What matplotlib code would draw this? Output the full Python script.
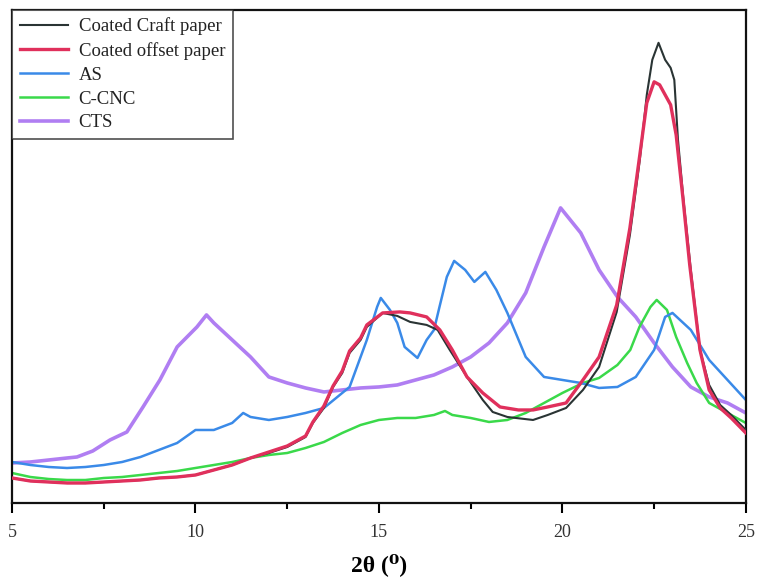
import matplotlib
matplotlib.use("Agg")
import matplotlib.pyplot as plt
from matplotlib.ticker import MultipleLocator

# Intensity (a.u.)
craft_x = [5, 5.5, 6, 6.5, 7, 7.5, 8, 8.5, 9, 9.5, 10, 10.5, 11, 11.5, 12, 12.5, 13, 13.2,
           13.5, 13.75, 14, 14.2, 14.5, 14.67, 15.1, 15.5, 15.85, 16.3, 16.6, 16.93, 17.4,
           17.83, 18.1, 18.5, 19.2, 19.6, 20.1, 20.56, 21.0, 21.48, 21.84, 22.11, 22.3,
           22.45, 22.62, 22.8, 22.95, 23.05, 23.15, 23.3, 23.5, 23.75, 24.0, 24.3, 24.6, 25]
craft_y = [25, 22, 21, 20, 20, 21, 22, 23, 25, 26, 28, 33, 38, 45, 50, 56, 66, 80,
           95, 116, 130, 150, 163, 176, 190, 187, 181, 178, 173, 153, 126,
           103, 91, 86, 83, 88, 95, 113, 136, 191, 268, 343, 408,
           443, 460, 443, 435, 423, 363, 303, 233, 153, 118, 98, 88, 73]

offset_x = [5, 5.5, 6, 6.5, 7, 7.5, 8, 8.5, 9, 9.5, 10, 10.5, 11, 11.5, 12, 12.5, 13, 13.2,
            13.5, 13.75, 14, 14.2, 14.5, 14.67, 15.1, 15.57, 15.85, 16.3, 16.66, 17.0, 17.4,
            17.83, 18.3, 18.8, 19.2, 19.6, 20.1, 20.56, 21.0, 21.48, 21.84, 22.11, 22.3,
            22.5, 22.65, 22.8, 22.95, 23.1, 23.29, 23.47, 23.75, 24.0, 24.3, 24.6, 25]
offset_y = [25, 22, 21, 20, 20, 21, 22, 23, 25, 26, 28, 33, 38, 45, 51, 57, 67, 81,
            97, 117, 132, 152, 165, 178, 190, 191, 190, 186, 173, 153, 126,
            110, 96, 93, 93, 96, 100, 123, 146, 198, 275, 348, 400,
            421, 418, 408, 398, 368, 303, 238, 153, 113, 95, 85, 70]

as_x = [5, 5.5, 6, 6.5, 7, 7.5, 8, 8.5, 9, 9.5, 10, 10.5, 11, 11.3, 11.5, 12, 12.5, 13,
        13.5, 14, 14.2, 14.5, 14.67, 14.95, 15.05, 15.3, 15.5, 15.7, 16.05, 16.3, 16.5,
        16.65, 16.85, 17.05, 17.35, 17.6, 17.9, 18.2, 18.5, 19.0, 19.5, 20, 20.5, 21,
        21.5, 22, 22.5, 22.8, 23, 23.5, 24, 24.5, 25]
as_y = [41, 38, 36, 35, 36, 38, 41, 46, 53, 60, 73, 73, 80, 90, 86, 83, 86, 90,
        95, 110, 116, 146, 163, 196, 205, 193, 180, 156, 145, 163, 173,
        196, 226, 242, 233, 221, 231, 213, 190, 146, 126, 123, 120, 115,
        116, 126, 153, 186, 190, 173, 143, 123, 103]

cnc_x = [5, 5.5, 6, 6.5, 7, 7.5, 8, 8.5, 9, 9.5, 10, 10.5, 11, 11.5, 12, 12.5, 13, 13.5,
         14, 14.5, 15, 15.5, 16, 16.5, 16.8, 17, 17.5, 18, 18.5, 19, 19.5, 20, 20.56, 21.0,
         21.5, 21.85, 22.1, 22.4, 22.57, 22.85, 23.1, 23.4, 23.66, 24.0, 24.5, 25]
cnc_y = [30, 26, 24, 23, 23, 25, 26, 28, 30, 32, 35, 38, 41, 45, 48, 50, 55, 61,
         70, 78, 83, 85, 85, 88, 92, 88, 85, 81, 83, 90, 100, 110, 120, 125,
         138, 153, 176, 196, 203, 193, 166, 140, 120, 100, 90, 80]

cts_x = [5, 5.5, 6, 6.5, 6.77, 7.2, 7.67, 8.13, 8.57, 9.03, 9.5, 10.04, 10.3, 10.5, 11,
         11.5, 12, 12.5, 13, 13.5, 14, 14.5, 15, 15.5, 16, 16.5, 17, 17.5, 18, 18.5, 19,
         19.5, 19.95, 20.5, 21, 21.5, 22, 22.5, 23, 23.5, 24, 24.5, 25]
cts_y = [40, 41, 43, 45, 46, 52, 63, 71, 96, 123, 156, 176, 188, 180, 163,
         146, 126, 120, 115, 111, 113, 115, 116, 118, 123, 128, 136, 146, 160, 180, 210,
         256, 295, 270, 233, 206, 186, 160, 136, 116, 106, 100, 90]

labels = ["Coated Craft paper", "Coated offset paper", "AS", "C-CNC", "CTS"]
colors = ["#2a3434", "#e0305c", "#3a8ae8", "#3ad94a", "#b07ef2"]
widths = [1.5, 2.4, 1.8, 1.8, 2.6]

tick_labels = ["5", "10", "15", "20", "25"]

serif = ["Liberation Serif", "DejaVu Serif"]

fig = plt.figure(figsize=(7.66, 5.83), dpi=100)
ax = fig.add_axes([0.0157, 0.1372, 0.958, 0.846])

series = [(craft_x, craft_y), (offset_x, offset_y), (as_x, as_y), (cnc_x, cnc_y), (cts_x, cts_y)]
order = [4, 3, 2, 0, 1]
lines = {}
for i in order:
    x, y = series[i]
    ln, = ax.plot(x, y, color=colors[i], lw=widths[i], label=labels[i], zorder=2 + (i in (0, 1)))
    lines[i] = ln

ax.set_xlim(5, 25)
ax.set_ylim(0, 493)
ax.set_xticks([5, 10, 15, 20, 25])
ax.set_xticklabels(tick_labels, fontfamily=serif, fontsize=13, color="#333333")
ax.xaxis.set_minor_locator(MultipleLocator(2.5))
ax.tick_params(axis="x", which="major", direction="out", length=7, width=1.5, pad=8)
ax.tick_params(axis="x", which="minor", direction="out", length=4, width=1.5)
ax.set_yticks([])
for s in ax.spines.values():
    s.set_linewidth(1.6)
    s.set_color("#111111")

ax.set_xlabel("2θ (⁰)", fontfamily=serif, fontsize=17, fontweight="bold", labelpad=9)

leg = ax.legend([lines[i] for i in range(5)], labels, loc="upper left",
                bbox_to_anchor=(0, 1), borderaxespad=0, frameon=True, fancybox=False,
                edgecolor="#222222", prop={"family": serif, "size": 13.5},
                handlelength=2.6, handletextpad=0.55, labelspacing=0.36,
                borderpad=0.4)
leg.get_frame().set_linewidth(1.2)
for t in leg.get_texts():
    t.set_color("#222222")

fig.savefig("out.png", dpi=100)
